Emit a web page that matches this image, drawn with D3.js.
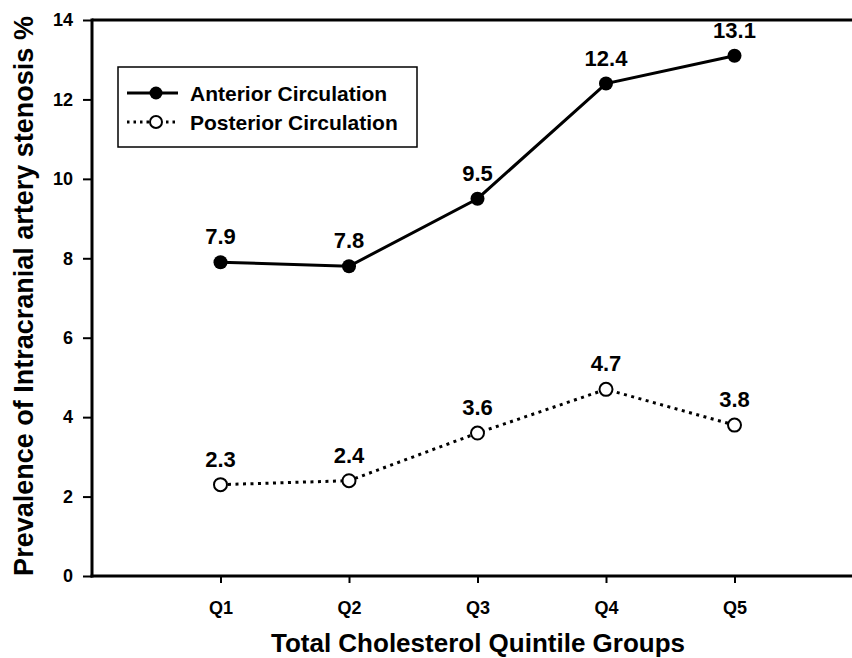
<!DOCTYPE html>
<html>
<head>
<meta charset="utf-8">
<script src="https://cdn.jsdelivr.net/npm/d3@7"></script>
<style>
  html, body { margin: 0; padding: 0; background: #fff; }
  svg { display: block; font-family: "Liberation Sans", Arial, sans-serif; }
</style>
</head>
<body>
<svg id="chart" width="852" height="658"></svg>
<script>
const categories = ["Q1", "Q2", "Q3", "Q4", "Q5"];
const anterior = [7.9, 7.8, 9.5, 12.4, 13.1];
const posterior = [2.3, 2.4, 3.6, 4.7, 3.8];
const yTicks = [0, 2, 4, 6, 8, 10, 12, 14];
const seriesNames = ["Anterior Circulation", "Posterior Circulation"];

(function () {
const svg = d3.select("#chart");
const W = 852;
const mLeft = 92, mTop = 20, mBottom = 576;

const x = d3.scaleLinear().domain([0, 6]).range([mLeft, mLeft + 128.5 * 6]);
const y = d3.scaleLinear().domain([0, 14]).range([mBottom, mTop]);

svg.append("line").attr("x1", mLeft).attr("x2", W).attr("y1", y(14)).attr("y2", y(14))
  .attr("stroke", "#000").attr("stroke-width", 3);

const yAxis = svg.append("g").attr("transform", `translate(${mLeft},0)`)
  .call(d3.axisLeft(y).tickValues(yTicks).tickFormat(d3.format("d")).tickSize(9).tickPadding(10));
yAxis.select(".domain").remove();
yAxis.selectAll(".tick line").attr("stroke-width", 2);
yAxis.selectAll(".tick text").attr("font-size", 18).attr("font-weight", "bold").attr("fill", "#000")
  .attr("font-family", "Liberation Sans, Arial, sans-serif");
svg.append("line").attr("x1", mLeft).attr("x2", mLeft).attr("y1", y(14) - 1.5).attr("y2", y(0) + 1.5)
  .attr("stroke", "#000").attr("stroke-width", 3);

const xAxis = svg.append("g").attr("transform", `translate(0,${mBottom})`)
  .call(d3.axisBottom(x).tickValues([1, 2, 3, 4, 5]).tickFormat(d => categories[d - 1]).tickSize(7).tickPadding(18));
xAxis.select(".domain").remove();
xAxis.selectAll(".tick line").attr("stroke-width", 2);
xAxis.selectAll(".tick text").attr("font-size", 18).attr("font-weight", "bold").attr("fill", "#000")
  .attr("font-family", "Liberation Sans, Arial, sans-serif");
svg.append("line").attr("x1", mLeft - 1.5).attr("x2", W).attr("y1", y(0)).attr("y2", y(0))
  .attr("stroke", "#000").attr("stroke-width", 3);

svg.append("text").attr("x", 478).attr("y", 652).attr("text-anchor", "middle")
  .attr("font-size", 26).attr("font-weight", "bold").text("Total Cholesterol Quintile Groups");
svg.append("text").attr("transform", `translate(33,296) rotate(-90)`)
  .attr("text-anchor", "middle").attr("font-size", 27).attr("font-weight", "bold")
  .text("Prevalence of Intracranial artery stenosis %");

const line = d3.line().x((d, i) => x(i + 1)).y(d => y(d));

svg.append("path").datum(posterior).attr("d", line).attr("fill", "none")
  .attr("stroke", "#000").attr("stroke-width", 3).attr("stroke-dasharray", "3,4.5");
svg.selectAll(".pm").data(posterior).enter().append("circle")
  .attr("cx", (d, i) => x(i + 1)).attr("cy", d => y(d)).attr("r", 6.5)
  .attr("fill", "#fff").attr("stroke", "#000").attr("stroke-width", 2);

svg.append("path").datum(anterior).attr("d", line).attr("fill", "none")
  .attr("stroke", "#000").attr("stroke-width", 3);
svg.selectAll(".am").data(anterior).enter().append("circle")
  .attr("cx", (d, i) => x(i + 1)).attr("cy", d => y(d)).attr("r", 7)
  .attr("fill", "#000");

function labels(data) {
  svg.selectAll(null).data(data).enter().append("text")
    .attr("x", (d, i) => x(i + 1)).attr("y", d => y(d) - 18)
    .attr("text-anchor", "middle").attr("font-size", 22).attr("font-weight", "bold")
    .text(d => d.toFixed(1));
}
labels(anterior);
labels(posterior);

const lg = svg.append("g");
lg.append("rect").attr("x", 118).attr("y", 67).attr("width", 299).attr("height", 80)
  .attr("fill", "#fff").attr("stroke", "#000").attr("stroke-width", 1.5);
lg.append("line").attr("x1", 127).attr("x2", 178).attr("y1", 93).attr("y2", 93)
  .attr("stroke", "#000").attr("stroke-width", 3);
lg.append("circle").attr("cx", 156).attr("cy", 93).attr("r", 6.5).attr("fill", "#000");
lg.append("line").attr("x1", 127).attr("x2", 178).attr("y1", 122).attr("y2", 122)
  .attr("stroke", "#000").attr("stroke-width", 3).attr("stroke-dasharray", "2.5,4");
lg.append("circle").attr("cx", 156).attr("cy", 122).attr("r", 6)
  .attr("fill", "#fff").attr("stroke", "#000").attr("stroke-width", 2);
lg.selectAll(".lt").data(seriesNames).enter().append("text")
  .attr("x", 190).attr("y", (d, i) => 100.5 + i * 29)
  .attr("font-size", 21).attr("font-weight", "bold").text(d => d);
})();
</script>
</body>
</html>
